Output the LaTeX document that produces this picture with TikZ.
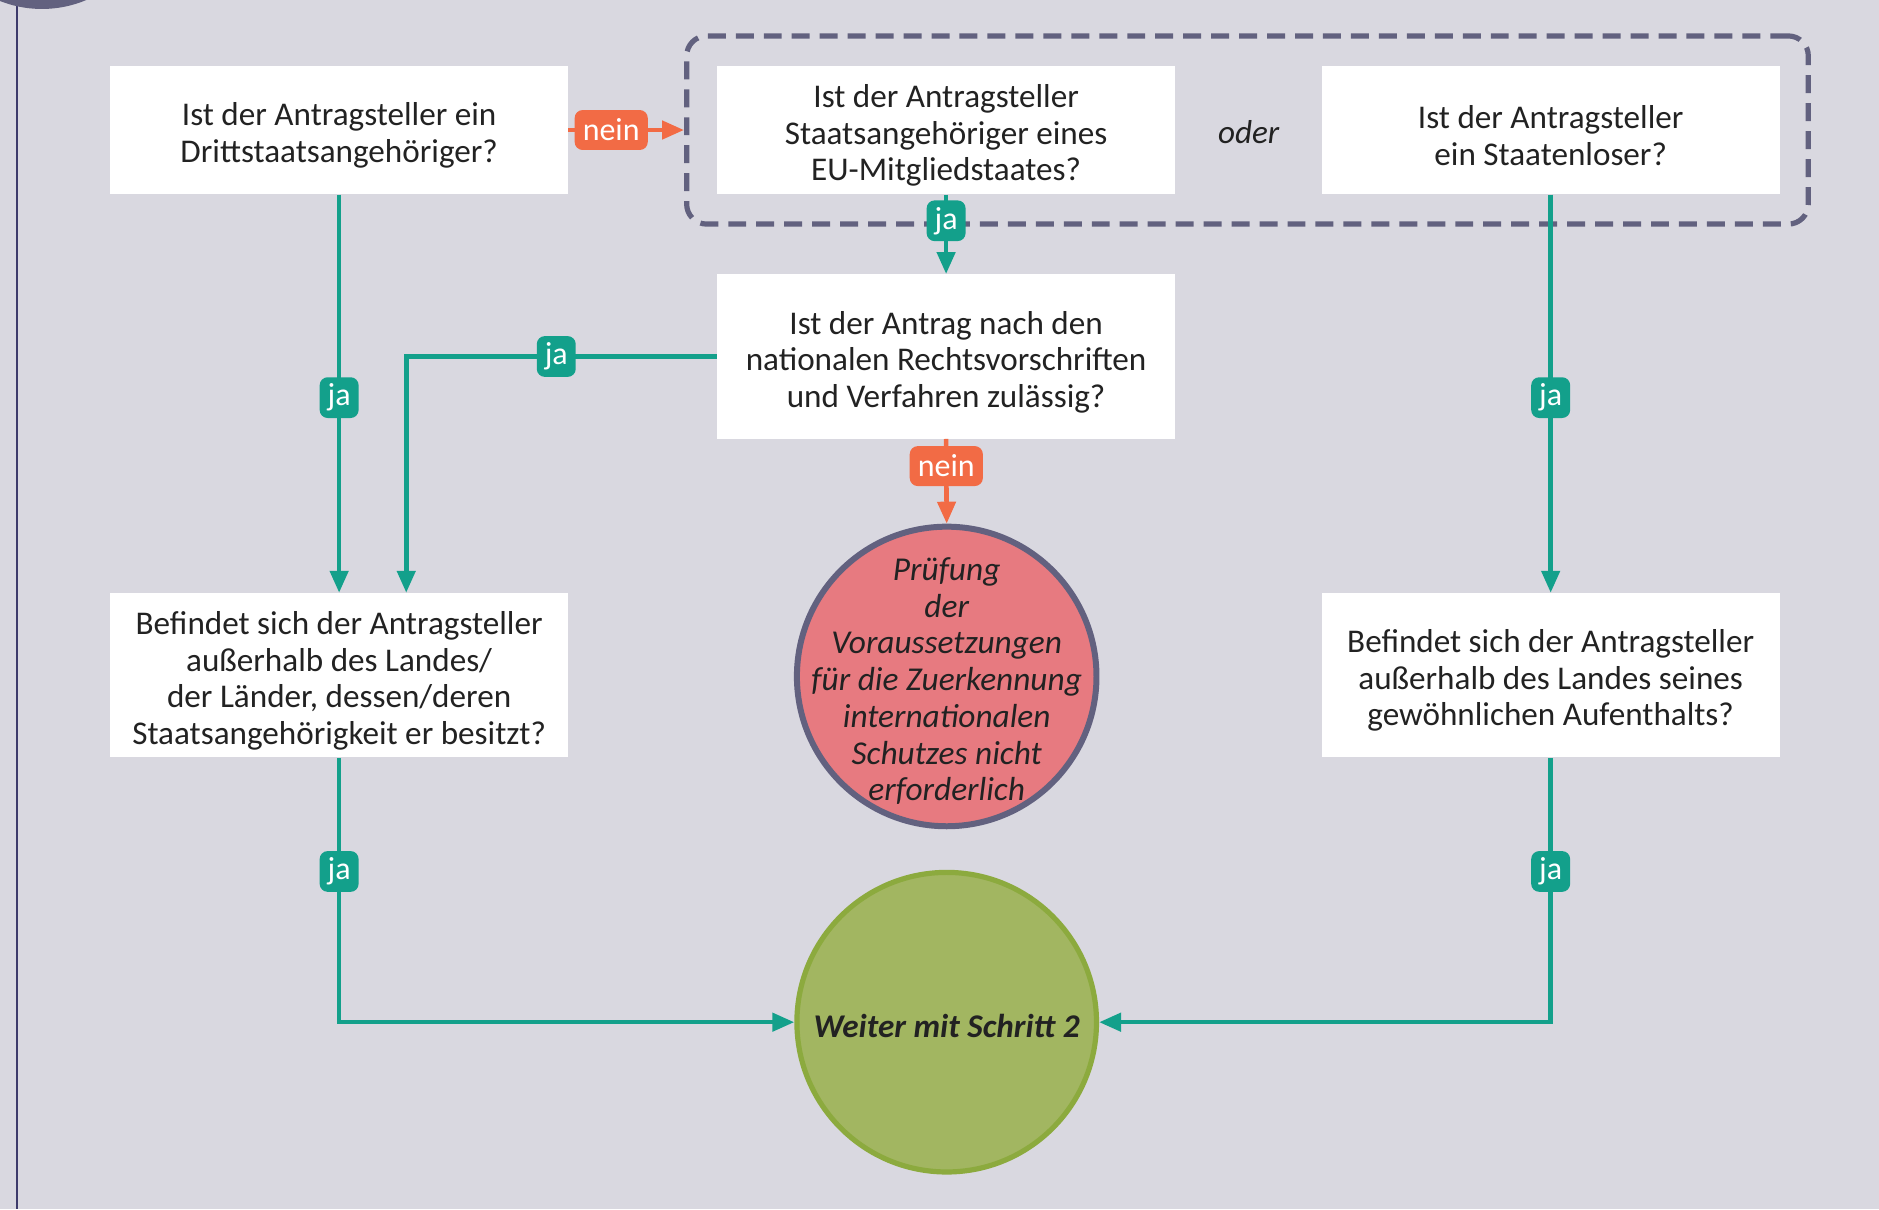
\documentclass[tikz,border=0pt]{standalone}
\usepackage{fontspec}
\setmainfont{Carlito}
\usetikzlibrary{arrows.meta,calc}
\definecolor{bgc}{HTML}{D9D8E0}
\definecolor{tealc}{HTML}{13A08B}
\definecolor{orangec}{HTML}{F26B45}
\definecolor{slatec}{HTML}{62617F}
\definecolor{redc}{HTML}{E77A80}
\definecolor{greenc}{HTML}{A2B661}
\definecolor{greenb}{HTML}{8CAA3E}
\definecolor{txtc}{HTML}{222222}
\definecolor{navyc}{HTML}{3D3A6B}
\tikzset{
  qbox/.style={fill=white, draw=none, minimum width=229.2pt, inner sep=0pt},
  qtext/.style={text=txtc, align=center, inner sep=0pt, font=\fontsize{16.6}{18.3}\selectfont},
  flowj/.style={draw=tealc, line width=2.3pt, -{Triangle[length=11pt,width=9pt]}},
  flown/.style={draw=orangec, line width=2.3pt, -{Triangle[length=11pt,width=9pt]}},
  jalab/.style={fill=tealc, text=white, rounded corners=4pt, minimum width=19.5pt, minimum height=20.4pt, inner sep=1pt,
    font=\fontsize{16}{18}\selectfont},
  neinlab/.style={fill=orangec, text=white, rounded corners=4pt, minimum width=36.6pt, minimum height=20pt, inner sep=1pt,
    font=\fontsize{16}{18}\selectfont},
}
\begin{document}
\begin{tikzpicture}[x=0.6pt,y=-0.6pt]
\fill[bgc] (0,0) rectangle (1568,1008.9);
\useasboundingbox (0,0) rectangle (1568,1008.9);
\draw[navyc, line width=0.9pt] (14,0) -- (14,1008.9);
\fill[slatec] (35,-87.5) circle[radius=57pt];

% group
\node[draw=slatec, line width=2.6pt, dash pattern=on 9pt off 5pt, rounded corners=10pt,
  minimum width=561.6pt, minimum height=94.2pt, inner sep=0pt] (grp) at (1041,108.5) {};

\node[qbox, minimum height=64.2pt] (A) at (283,108.5) {};
\node[qtext] (At) at ([yshift=-2.7pt]A.center) {Ist der Antragsteller ein\\Drittstaatsangehöriger?};
\node[qbox, minimum height=64.2pt] (B) at (789.5,108.5) {};
\node[qtext] (Bt) at ([yshift=-2.7pt]B.center) {Ist der Antragsteller\\Staatsangehöriger eines\\EU-Mitgliedstaates?};
\node[qbox, minimum height=64.2pt] (C) at (1294,108.5) {};
\node[qtext] (Ct) at ([yshift=-2.7pt]C.center) {Ist der Antragsteller\\ein Staatenloser?};
\node[qtext, font=\fontsize{16.6}{18}\selectfont\itshape] (oder) at (1042,110) {oder};

\node[qbox, minimum height=82.2pt] (D) at (789.5,297.5) {};
\node[qtext] (Dt) at ([yshift=-2.7pt]D.center) {Ist der Antrag nach den\\nationalen Rechtsvorschriften\\und Verfahren zulässig?};
\node[qbox, minimum height=82.2pt] (E) at (283,563.5) {};
\node[qtext] (Et) at ([yshift=-2.7pt]E.center) {Befindet sich der Antragsteller\\außerhalb des Landes/\\der Länder, dessen/deren\\Staatsangehörigkeit er besitzt?};
\node[qbox, minimum height=82.2pt] (F) at (1294,563.5) {};
\node[qtext] (Ft) at ([yshift=-2.7pt]F.center) {Befindet sich der Antragsteller\\außerhalb des Landes seines\\gewöhnlichen Aufenthalts?};

\node[circle, fill=redc, draw=slatec, line width=3pt, minimum size=150pt, inner sep=0pt] (R) at (790,564.5) {};
\node[qtext, font=\fontsize{16.7}{18.4}\selectfont\itshape] (Rt) at ([yshift=-2.4pt]R.center)
  {Prüfung\\der\\Voraussetzungen\\für die Zuerkennung\\internationalen\\Schutzes nicht\\erforderlich};
\node[circle, fill=greenc, draw=greenb, line width=2.6pt, minimum size=150pt, inner sep=0pt] (G) at (790,853) {};
\node[qtext, font=\fontsize{16.6}{18}\selectfont\bfseries\itshape] (Gt) at ([yshift=-1.8pt]G.center) {Weiter mit Schritt 2};

% connectors
\draw[flown] (A.east) -- node[neinlab, pos=0.37]{nein} (grp.west);
\draw[flowj] (B.south) -- node[jalab, pos=0.33]{ja} (D.north);
\draw[flowj] (A.south) -- node[jalab, pos=0.51]{ja} (E.north);
\coordinate (k) at (339,297.5);
\draw[flowj] (D.west) -- node[jalab, pos=0.517]{ja} (k) -- (k |- E.north);
\draw[flown] (D.south) -- node[neinlab, pos=0.32]{nein} (R.north);
\draw[flowj] (C.south) -- node[jalab, pos=0.51]{ja} (F.north);
\coordinate (e2) at (E.south |- G.west);
\draw[flowj] (E.south) -- node[jalab, pos=0.43]{ja} (e2) -- (G.west);
\coordinate (f2) at (F.south |- G.east);
\draw[flowj] (F.south) -- node[jalab, pos=0.43]{ja} (f2) -- (G.east);
\end{tikzpicture}
\end{document}
